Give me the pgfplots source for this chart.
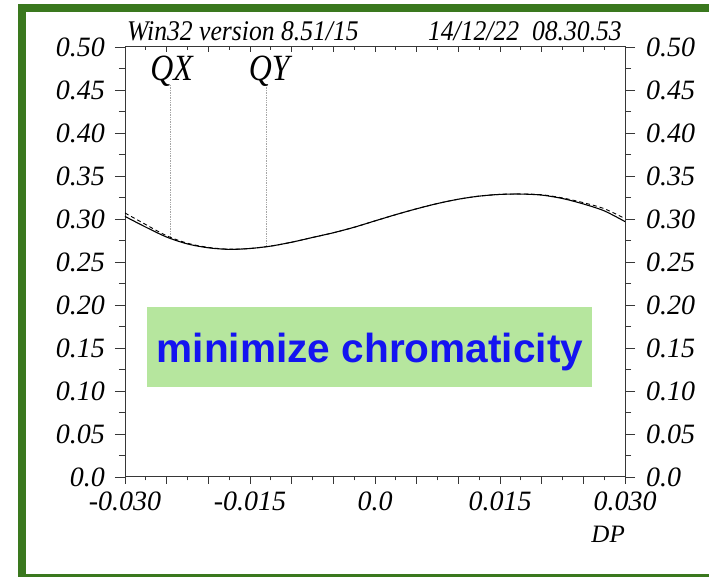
\documentclass[border=0pt]{standalone}
\usepackage{pgfplots}
\pgfplotsset{compat=1.18}
\usepackage{fontspec}
\setmainfont{Liberation Serif}
\newfontfamily\sansbold{Liberation Sans}
\newfontfamily\titlefont{Liberation Serif}[FakeStretch=0.9]
\newfontfamily\qfont{Liberation Serif}[FakeStretch=0.86]
\definecolor{framegreen}{RGB}{58,120,30}
\definecolor{boxgreen}{RGB}{182,230,158}
\definecolor{txtblue}{RGB}{20,20,240}
\definecolor{axgray}{RGB}{55,55,55}

\pgfplotstableread{
x y
-0.0300 0.3030
-0.0275 0.2905
-0.0250 0.2790
-0.0225 0.2710
-0.0200 0.2665
-0.0175 0.2647
-0.0150 0.2657
-0.0125 0.2685
-0.0100 0.2730
-0.0075 0.2785
-0.0050 0.2840
-0.0025 0.2904
0.0000 0.2978
0.0025 0.3051
0.0050 0.3119
0.0075 0.3180
0.0100 0.3230
0.0125 0.3266
0.0150 0.3286
0.0175 0.3290
0.0200 0.3278
0.0225 0.3238
0.0250 0.3175
0.0275 0.3095
0.0300 0.2970
}\solid

\pgfplotstableread{
x y
-0.0300 0.3070
-0.0275 0.2935
-0.0250 0.2805
-0.0225 0.2718
-0.0200 0.2670
-0.0175 0.2649
-0.0150 0.2657
-0.0125 0.2685
-0.0100 0.2730
-0.0075 0.2785
-0.0050 0.2840
-0.0025 0.2904
0.0000 0.2978
0.0025 0.3051
0.0050 0.3119
0.0075 0.3180
0.0100 0.3230
0.0125 0.3266
0.0150 0.3286
0.0175 0.3291
0.0200 0.3282
0.0225 0.3245
0.0250 0.3190
0.0275 0.3120
0.0300 0.3005
}\dashed

\pgfplotsset{
  base/.style={
    scale only axis, width=500pt, height=430pt, at={(125pt,100pt)}, anchor=south west,
    xmin=-0.03, xmax=0.03, ymin=0, ymax=0.5,
    scaled x ticks=false, scaled y ticks=false,
    axis line style={draw=none},
    tick style={axgray, line width=0.9pt},
    ticklabel style={font=\fontsize{28}{28}\selectfont\itshape, inner sep=2pt},
  },
  xt/.style={xtick={-0.03,-0.025,-0.02,-0.015,-0.01,-0.005,0,0.005,0.01,0.015,0.02,0.025,0.03}, minor x tick num=1},
  yt/.style={ytick={0,0.05,0.1,0.15,0.2,0.25,0.3,0.35,0.4,0.45,0.5}, minor y tick num=1,
    yticklabels={0.0,0.05,0.10,0.15,0.20,0.25,0.30,0.35,0.40,0.45,0.50}},
}

\begin{document}
\begin{tikzpicture}[x=1pt,y=1pt]
\useasboundingbox (0,0) rectangle (709,577);
\fill[white] (0,0) rectangle (709,577);
\draw[framegreen, line width=8pt] (22,-1) rectangle (740,569);

% bottom x ticks with labels
\begin{axis}[base, xt, ytick=\empty, xtick pos=left, tick align=outside,
  major tick length=7pt, minor tick length=3.5pt,
  xticklabels={-0.030,,,-0.015,,,0.0,,,0.015,,,0.030},
  xticklabel style={yshift=-6pt}]
\end{axis}
% top x ticks inside
\begin{axis}[base, xt, ytick=\empty, xtick pos=right, tick align=inside,
  major tick length=5pt, minor tick length=3pt, xticklabels={}]
\end{axis}
% left y ticks with labels
\begin{axis}[base, yt, xtick=\empty, ytick pos=left, tick align=outside,
  major tick length=10pt, minor tick length=6pt,
  yticklabel style={xshift=-8pt}]
\end{axis}
% right y ticks with labels
\begin{axis}[base, yt, xtick=\empty, ytick pos=right, yticklabel pos=right, tick align=outside,
  major tick length=10pt, minor tick length=6pt,
  yticklabel style={xshift=9pt}]
\end{axis}
% main
\begin{axis}[scale only axis, width=500pt, height=430pt, at={(125pt,100pt)}, anchor=south west,
  xmin=-0.03, xmax=0.03, ymin=0, ymax=0.5, xtick=\empty, ytick=\empty,
  axis line style={axgray, line width=1pt}, clip=false]
  \addplot[black!35, densely dotted, line width=0.7pt] coordinates {(-0.0245,0.456) (-0.0245,0.2765)};
  \addplot[black!35, densely dotted, line width=0.7pt] coordinates {(-0.01308,0.456) (-0.01308,0.2690)};
  \addplot[black, dashed, dash pattern=on 4pt off 3pt, line width=0.9pt, smooth] table[x=x,y=y] {\dashed};
  \addplot[black, line width=1.1pt, smooth] table[x=x,y=y] {\solid};
  \node[anchor=base, font=\qfont\itshape\fontsize{37}{37}\selectfont, inner sep=0] at (axis cs:-0.0244,0.4616) {QX};
  \node[anchor=base, font=\qfont\itshape\fontsize{37}{37}\selectfont, inner sep=0] at (axis cs:-0.0127,0.4616) {QY};
\end{axis}

\node[anchor=base west, inner sep=0, font=\titlefont\itshape\fontsize{28.5}{28}\selectfont] at (127,536) {Win32 version 8.51/15};
\node[anchor=base east, inner sep=0, font=\titlefont\itshape\fontsize{28.5}{28}\selectfont] at (622,536) {14/12/22\ \ 08.30.53};
\node[anchor=base east, inner sep=0, font=\fontsize{25}{25}\selectfont\itshape] at (625,34) {DP};

\node[fill=boxgreen, minimum width=445pt, minimum height=80pt, anchor=south west, inner sep=0] at (147,190) {};
\node[anchor=base, inner sep=0, text=txtblue, font=\sansbold\bfseries\fontsize{40.6}{41}\selectfont] at (370,214) {minimize chromaticity};
\end{tikzpicture}
\end{document}
